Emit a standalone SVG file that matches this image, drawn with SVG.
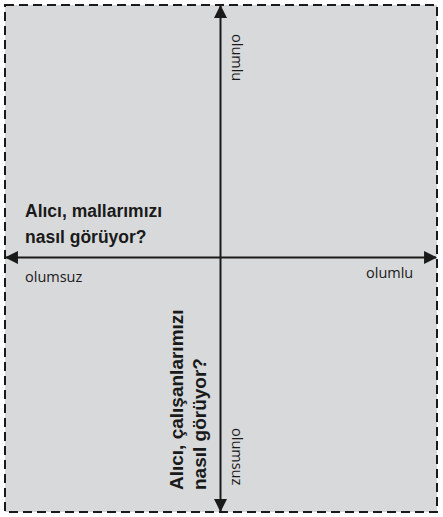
<svg xmlns="http://www.w3.org/2000/svg" width="443" height="517" viewBox="0 0 443 517">
<style>
.bold{font-family:"Liberation Sans",Arial,sans-serif;font-weight:bold;font-size:17.5px;fill:#1a1a1a}
.vbold{font-size:19px}
.lbl{font-family:"Open Sans","Liberation Sans",sans-serif;font-size:14.5px;fill:#1a1a1a}
.ax{stroke:#1a1a1a;stroke-width:2;fill:none}
</style>
<defs>
<marker id="ah" viewBox="0 0 12 12" refX="11" refY="6" markerWidth="13" markerHeight="13" markerUnits="userSpaceOnUse" orient="auto">
<path d="M0,0 L12,6 L0,12 Z" fill="#1a1a1a"/>
</marker>
</defs>
<g id="frame">
<rect x="5" y="5" width="432" height="507" fill="#d8d9da" stroke="#1a1a1a" stroke-width="2" stroke-dasharray="9 5"/>
</g>
<g id="connectors">
<line class="ax" x1="220.5" y1="257.5" x2="220.5" y2="6" marker-end="url(#ah)"/>
<line class="ax" x1="220.5" y1="257.5" x2="220.5" y2="511" marker-end="url(#ah)"/>
<line class="ax" x1="220.5" y1="257.5" x2="6" y2="257.5" marker-end="url(#ah)"/>
<line class="ax" x1="220.5" y1="257.5" x2="436" y2="257.5" marker-end="url(#ah)"/>
</g>
<g id="horizontal-question">
<text class="bold" x="25" y="217">Alıcı, mallarımızı</text>
<text class="bold" x="25" y="243">nasıl görüyor?</text>
</g>
<g id="vertical-question">
<text class="bold vbold" transform="translate(183,490) rotate(-90)">Alıcı, çalışanlarımızı</text>
<text class="bold vbold" transform="translate(206,490) rotate(-90)">nasıl görüyor?</text>
</g>
<g id="label-left">
<text class="lbl" x="25" y="282">olumsuz</text>
</g>
<g id="label-right">
<text class="lbl" x="366" y="278">olumlu</text>
</g>
<g id="label-top">
<text class="lbl" transform="translate(232,34) rotate(90)">olumlu</text>
</g>
<g id="label-bottom">
<text class="lbl" transform="translate(232,428) rotate(90)">olumsuz</text>
</g>
</svg>
